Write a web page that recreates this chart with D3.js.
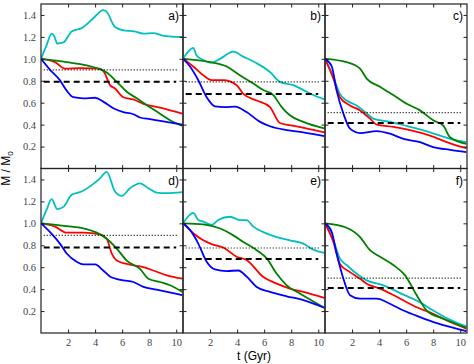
<!DOCTYPE html>
<html>
<head>
<meta charset="utf-8">
<script src="https://cdn.jsdelivr.net/npm/d3@7"></script>
<style>
  body { margin: 0; background: #fff; }
</style>
</head>
<body>
<script>
// panel labels and axis ticks
var panelNames = ["a)", "b)", "c)", "d)", "e)", "f)"];
var xTicks = [2, 4, 6, 8, 10];
var yTicks = [0.2, 0.4, 0.6, 0.8, 1.0, 1.2, 1.4];

// reference levels per panel: [dotted, dashed]
var dottedLevel = [0.90, 0.79, 0.51, 0.89, 0.775, 0.50];
var dashedLevel = [0.79, 0.68, 0.415, 0.78, 0.674, 0.41];

// curves, [t (Gyr), M/M0]
var aCyan = [[0,1],[0.4,1.12],[0.79,1.23],[1.0,1.2],[1.2,1.14],[1.66,1.15],[2.27,1.25],[3.0,1.28],[3.87,1.37],[4.6,1.445],[4.85,1.43],[5.47,1.29],[6.09,1.26],[6.9,1.25],[7.57,1.23],[8.3,1.235],[9.05,1.21],[10.45,1.2]];
var aRed = [[0,1],[1.04,0.97],[1.78,0.91],[2.88,0.915],[4.36,0.91],[4.73,0.865],[5.1,0.76],[5.47,0.73],[6.09,0.65],[6.83,0.63],[7.57,0.59],[8.8,0.555],[10.45,0.5]];
var aGreen = [[0,1],[1.9,0.97],[3.38,0.94],[4.24,0.91],[4.86,0.875],[5.6,0.79],[6.34,0.70],[7.08,0.64],[7.8,0.58],[8.8,0.5],[9.54,0.44],[10.45,0.39]];
var aBlue = [[0,1],[0.67,0.90],[1.4,0.805],[1.9,0.71],[2.39,0.65],[3.13,0.64],[4.0,0.645],[4.6,0.61],[5.35,0.55],[6.09,0.515],[6.83,0.495],[7.32,0.465],[8.06,0.45],[9.05,0.43],[10.45,0.40]];

var bCyan = [[0,1],[0.76,1.10],[1.0,1.03],[1.5,0.99],[2.12,0.965],[2.74,1.0],[3.72,1.065],[4.46,1.02],[5.45,0.96],[6.43,0.88],[7.17,0.79],[8.16,0.76],[8.9,0.715],[9.64,0.67],[10.45,0.63]];
var bRed = [[0,1],[0.76,0.93],[1.5,0.85],[2.12,0.805],[2.98,0.805],[3.97,0.76],[4.46,0.68],[5.45,0.62],[6.43,0.56],[7.17,0.415],[8.4,0.385],[10.45,0.33]];
var bGreen = [[0,1],[2.0,0.97],[3.23,0.93],[4.2,0.85],[5.2,0.775],[5.94,0.715],[6.68,0.67],[7.3,0.56],[7.9,0.485],[8.9,0.425],[10.45,0.365]];
var bBlue = [[0,1],[0.52,0.93],[1.13,0.805],[1.75,0.65],[2.37,0.567],[3.1,0.56],[3.85,0.565],[4.7,0.515],[5.7,0.425],[6.43,0.385],[7.67,0.35],[8.9,0.33],[10.45,0.295]];

var cCyan = [[0,1],[0.62,0.835],[1.1,0.68],[1.6,0.62],[2.34,0.575],[2.96,0.515],[3.57,0.455],[4.8,0.425],[6.29,0.38],[7.77,0.33],[9.25,0.27],[10.45,0.24]];
var cRed = [[0,1],[0.62,0.82],[1.1,0.65],[1.85,0.575],[2.59,0.53],[3.33,0.455],[3.82,0.40],[5.05,0.38],[6.29,0.35],[7.77,0.30],[9.25,0.23],[10.45,0.185]];
var cGreen = [[0,1],[1.6,0.97],[2.59,0.91],[3.08,0.82],[4.07,0.745],[5.05,0.67],[6.04,0.59],[7.03,0.53],[8.0,0.44],[8.75,0.39],[9.25,0.285],[10.45,0.225]];
var cBlue = [[0,1],[0.5,0.93],[0.86,0.71],[1.36,0.50],[1.85,0.363],[2.59,0.323],[3.82,0.34],[4.8,0.317],[5.8,0.27],[7.03,0.24],[8.0,0.195],[9.25,0.17],[10.45,0.15]];

var dCyan = [[0,1],[0.4,1.12],[0.79,1.22],[1.2,1.13],[1.66,1.15],[2.27,1.26],[3.0,1.29],[3.87,1.36],[4.36,1.41],[4.86,1.47],[5.47,1.29],[5.97,1.25],[6.58,1.32],[7.32,1.365],[7.94,1.32],[8.55,1.28],[9.3,1.275],[10.45,1.285]];
var dRed = [[0,1],[1.04,0.97],[1.9,0.915],[3.13,0.915],[4.36,0.90],[4.86,0.86],[5.23,0.725],[5.6,0.66],[6.34,0.63],[7.57,0.60],[8.3,0.57],[9.3,0.525],[10.45,0.495]];
var dGreen = [[0,1],[1.9,0.975],[3.13,0.955],[4.12,0.915],[4.86,0.86],[5.6,0.77],[6.34,0.66],[7.32,0.585],[7.94,0.495],[8.8,0.465],[9.54,0.435],[10.45,0.375]];
var dBlue = [[0,1],[0.67,0.92],[1.4,0.815],[1.9,0.725],[2.64,0.65],[3.13,0.625],[4.0,0.625],[4.6,0.57],[5.1,0.515],[6.09,0.48],[6.83,0.465],[7.57,0.42],[8.55,0.395],[10.45,0.345]];

var eCyan = [[0,1],[0.76,1.095],[1.13,1.03],[1.5,1.015],[2.12,0.985],[2.6,1.03],[3.48,1.06],[4.2,1.03],[4.7,1.03],[5.2,0.97],[5.94,0.92],[6.93,0.875],[7.9,0.845],[8.9,0.815],[9.64,0.76],[10.45,0.73]];
var eRed = [[0,1],[0.76,0.91],[1.5,0.845],[2.12,0.81],[2.98,0.78],[3.97,0.695],[4.7,0.665],[5.94,0.51],[6.93,0.45],[7.9,0.405],[8.9,0.375],[10.45,0.32]];
var eGreen = [[0,1],[1.5,0.99],[2.7,0.955],[3.72,0.89],[4.46,0.83],[5.45,0.755],[6.19,0.68],[6.93,0.54],[7.67,0.435],[8.64,0.36],[10.45,0.23]];
var eBlue = [[0,1],[0.52,0.94],[1.13,0.815],[1.75,0.65],[2.37,0.58],[3.23,0.565],[4.09,0.57],[4.7,0.515],[5.45,0.42],[6.43,0.375],[7.67,0.335],[8.9,0.30],[10.45,0.23]];

var fCyan = [[0,1],[0.62,0.845],[1.1,0.68],[1.6,0.62],[2.34,0.54],[3.08,0.48],[4.31,0.435],[5.8,0.35],[7.03,0.28],[8.0,0.205],[9.25,0.12],[10.45,0.06]];
var fRed = [[0,1],[0.62,0.83],[1.1,0.63],[1.85,0.555],[2.59,0.495],[3.08,0.45],[4.07,0.405],[5.3,0.33],[6.78,0.235],[8.0,0.175],[9.25,0.10],[10.45,0.04]];
var fGreen = [[0,1],[1.6,0.96],[2.59,0.875],[3.33,0.755],[4.07,0.695],[5.05,0.62],[5.92,0.525],[6.78,0.345],[7.52,0.205],[8.75,0.13],[10.45,0.048]];
var fBlue = [[0,1],[0.5,0.92],[0.86,0.725],[1.36,0.495],[1.85,0.345],[2.59,0.313],[3.82,0.313],[4.8,0.267],[5.8,0.205],[7.03,0.145],[8.27,0.09],[10.45,0.017]];

var panels = [
  [aCyan, aRed, aGreen, aBlue],
  [bCyan, bRed, bGreen, bBlue],
  [cCyan, cRed, cGreen, cBlue],
  [dCyan, dRed, dGreen, dBlue],
  [eCyan, eRed, eGreen, eBlue],
  [fCyan, fRed, fGreen, fBlue]
];
var colors = ["#00bfbf", "#ff0000", "#008000", "#0000ff"];

var W = 474, H = 364;
var marginLeft = 41, marginTop = 4, pw = 142, ph = 164.5;

var svg = d3.select("body").append("svg")
    .attr("width", W)
    .attr("height", H);

var x = d3.scaleLinear().domain([0, 10.5]).range([0, pw]);
var y = d3.scaleLinear().domain([0, 1.5]).range([ph, 0]);

var line = d3.line()
    .x(function(d) { return x(d[0]); })
    .y(function(d) { return y(d[1]); })
    .curve(d3.curveMonotoneX);

svg.append("clipPath").attr("id", "clip")
  .append("rect").attr("width", pw).attr("height", ph);

panels.forEach(function(series, i) {
    var col = i % 3, row = Math.floor(i / 3);
    var g = svg.append("g")
        .attr("transform", "translate(" + (marginLeft + col * pw) + "," + (marginTop + row * ph) + ")");

    var plot = g.append("g").attr("clip-path", "url(#clip)");

    series.forEach(function(s, k) {
        plot.append("path")
            .datum(s)
            .attr("fill", "none")
            .attr("stroke", colors[k])
            .attr("stroke-width", 1.8)
            .attr("d", line);
    });

    // reference levels
    plot.append("line")
        .attr("x1", x(0.2)).attr("x2", x(10.1))
        .attr("y1", y(dottedLevel[i])).attr("y2", y(dottedLevel[i]))
        .attr("stroke", "#000").attr("stroke-width", 1.2)
        .attr("stroke-dasharray", "1,2");
    plot.append("line")
        .attr("x1", x(0.2)).attr("x2", x(10.0))
        .attr("y1", y(dashedLevel[i])).attr("y2", y(dashedLevel[i]))
        .attr("stroke", "#000").attr("stroke-width", 2)
        .attr("stroke-dasharray", "6,4");

    // axes with inward ticks on every side
    var bottomAx = g.append("g").attr("transform", "translate(0," + ph + ")")
        .call(d3.axisBottom(x).tickValues(xTicks).tickSizeInner(-3.5).tickSizeOuter(0).tickPadding(6));
    if (row === 0) bottomAx.selectAll("text").remove();
    g.append("g")
        .call(d3.axisTop(x).tickValues(xTicks).tickSizeInner(-3.5).tickSizeOuter(0))
        .selectAll("text").remove();
    var leftAx = g.append("g")
        .call(d3.axisLeft(y).tickValues(yTicks).tickSizeInner(-3.5).tickSizeOuter(0).tickPadding(5)
            .tickFormat(d3.format(".1f")));
    if (col !== 0) leftAx.selectAll("text").remove();
    g.append("g").attr("transform", "translate(" + pw + ",0)")
        .call(d3.axisRight(y).tickValues(yTicks).tickSizeInner(-3.5).tickSizeOuter(0))
        .selectAll("text").remove();
    g.selectAll(".domain").remove();
    g.selectAll(".tick line").attr("stroke", "#222");
    g.selectAll(".tick text")
        .style("font-family", "'Liberation Serif', 'DejaVu Serif', serif")
        .style("font-size", "10.5px")
        .attr("fill", "#444");

    g.append("rect")
        .attr("width", pw).attr("height", ph)
        .attr("fill", "none").attr("stroke", "#222").attr("stroke-width", 1.2);

    g.append("text")
        .attr("x", pw - 4).attr("y", 16)
        .attr("text-anchor", "end")
        .style("font-family", "Liberation Sans, Arial, sans-serif")
        .style("font-size", "12px")
        .text(panelNames[i]);
});

svg.append("text")
    .attr("x", marginLeft + 1.5 * pw).attr("y", 360)
    .attr("text-anchor", "middle")
    .style("font-family", "Liberation Sans, Arial, sans-serif")
    .style("font-size", "12px")
    .text("t (Gyr)");

var ylab = svg.append("text")
    .attr("transform", "translate(10," + (marginTop + ph) + ") rotate(-90)")
    .attr("text-anchor", "middle")
    .style("font-family", "Liberation Sans, Arial, sans-serif")
    .style("font-size", "12px");
ylab.append("tspan").text("M / M");
ylab.append("tspan").attr("dy", 3).style("font-size", "8px").text("0");
</script>
</body>
</html>
